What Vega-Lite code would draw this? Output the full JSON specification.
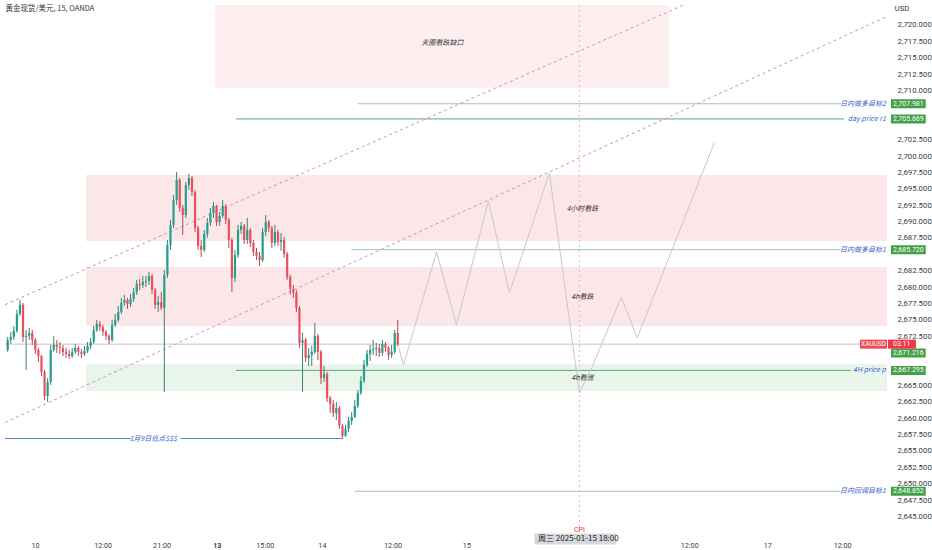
{
"$schema": "https://vega.github.io/schema/vega-lite/v6.json",
"width": 932, "height": 550,
"padding": 0,
"autosize": {"type": "fit", "contains": "padding"},
"background": "white",
"config": {"view": {"stroke": null}, "font": "Noto Sans CJK SC",
 "axis": {"domain": false, "ticks": false, "grid": false, "labelColor": "#3a3a3a", "labelFont": "Roboto", "labelOverlap": false, "labelFlush": false},
 "axisX": {"labelFontSize": 7.2, "labelPadding": 9, "minExtent": 18, "maxExtent": 18},
 "axisY": {"labelFontSize": 7.8, "labelPadding": 10, "minExtent": 44, "maxExtent": 44}},
"datasets": {
"zones": [
{"name":"天图看跌缺口","kind":"gap","t":34.96,"t2":108.94,"p":2710.39,"p2":2723.05},
{"name":"4小时看跌","kind":"bear","t":14.0,"t2":144.4,"p":2687.05,"p2":2697.12},
{"name":"4h看跌","kind":"bear","t":14.0,"t2":144.4,"p":2674.08,"p2":2683.08},
{"name":"4h看涨","kind":"bull","t":14.0,"t2":144.4,"p":2664.16,"p2":2668.28}
],
"levels": [
{"t":0.82,"t2":144.4,"p":2671.3,"kind":"last"},
{"t":58.2,"t2":136.9,"p":2707.981,"kind":"target"},
{"t":38.4,"t2":137.4,"p":2705.669,"kind":"pivot"},
{"t":57.2,"t2":136.9,"p":2685.72,"kind":"target"},
{"t":38.4,"t2":138.5,"p":2667.295,"kind":"pivot"},
{"t":57.7,"t2":136.9,"p":2648.852,"kind":"target"},
{"t":0.82,"t2":21.3,"p":2656.9,"kind":"low"},
{"t":29.4,"t2":55.8,"p":2656.9,"kind":"low"}
],
"channel": [
{"line":"upper","t":0.82,"p":2677.32},{"line":"upper","t":111.27,"p":2723.05},
{"line":"lower","t":0.82,"p":2659.33},{"line":"lower","t":144.4,"p":2721.3}
],
"path": [
{"t":64.75,"p":2671.3},{"t":65.69,"p":2668.13},{"t":71.06,"p":2685.37},{"t":74.31,"p":2674.23},
{"t":79.51,"p":2693.15},{"t":82.93,"p":2679.12},{"t":89.43,"p":2697.42},{"t":94.31,"p":2663.86},
{"t":96.26,"p":2667.52},{"t":101.14,"p":2678.5},{"t":103.74,"p":2672.25},{"t":116.26,"p":2702.0}
],
"cpi": [{"t":94.31,"p":2643.40,"p2":2723.05}],
"candles": [
{"t":1.25,"o":2670.42,"hi":2672.40,"lo":2670.12,"c":2671.95},
{"t":1.75,"o":2671.95,"hi":2673.17,"lo":2671.34,"c":2672.40},
{"t":2.25,"o":2672.40,"hi":2674.08,"lo":2671.95,"c":2673.32},
{"t":2.75,"o":2673.32,"hi":2676.52,"lo":2673.01,"c":2675.91},
{"t":3.25,"o":2675.91,"hi":2678.05,"lo":2675.61,"c":2677.29},
{"t":3.75,"o":2677.29,"hi":2677.59,"lo":2671.64,"c":2672.40},
{"t":4.25,"o":2672.40,"hi":2673.47,"lo":2667.37,"c":2672.56},
{"t":4.75,"o":2672.56,"hi":2673.78,"lo":2671.95,"c":2673.01},
{"t":5.25,"o":2673.01,"hi":2673.47,"lo":2671.18,"c":2671.95},
{"t":5.75,"o":2671.95,"hi":2672.25,"lo":2669.81,"c":2670.42},
{"t":6.25,"o":2670.42,"hi":2670.73,"lo":2668.59,"c":2669.50},
{"t":6.75,"o":2669.50,"hi":2669.66,"lo":2666.45,"c":2667.06},
{"t":7.25,"o":2667.06,"hi":2667.37,"lo":2662.79,"c":2663.40},
{"t":7.75,"o":2663.40,"hi":2666.15,"lo":2662.49,"c":2665.54},
{"t":8.25,"o":2665.54,"hi":2671.18,"lo":2665.08,"c":2670.42},
{"t":8.75,"o":2670.42,"hi":2672.56,"lo":2670.12,"c":2671.18},
{"t":9.25,"o":2671.18,"hi":2671.95,"lo":2669.96,"c":2670.88},
{"t":9.75,"o":2670.88,"hi":2671.64,"lo":2669.81,"c":2670.73},
{"t":10.25,"o":2670.73,"hi":2671.18,"lo":2669.50,"c":2670.12},
{"t":10.75,"o":2670.12,"hi":2670.73,"lo":2669.20,"c":2669.81},
{"t":11.25,"o":2669.81,"hi":2670.42,"lo":2669.05,"c":2669.50},
{"t":11.75,"o":2669.50,"hi":2670.73,"lo":2669.20,"c":2670.12},
{"t":12.25,"o":2670.12,"hi":2671.34,"lo":2669.81,"c":2670.73},
{"t":12.75,"o":2670.73,"hi":2671.03,"lo":2669.50,"c":2670.12},
{"t":13.25,"o":2670.12,"hi":2670.57,"lo":2669.20,"c":2669.81},
{"t":13.75,"o":2669.81,"hi":2671.03,"lo":2669.50,"c":2670.27},
{"t":14.25,"o":2670.27,"hi":2671.64,"lo":2669.96,"c":2671.03},
{"t":14.75,"o":2671.03,"hi":2672.25,"lo":2670.57,"c":2671.64},
{"t":15.25,"o":2671.64,"hi":2674.08,"lo":2671.34,"c":2673.47},
{"t":15.75,"o":2673.47,"hi":2675.00,"lo":2673.17,"c":2674.39},
{"t":16.25,"o":2674.39,"hi":2674.84,"lo":2673.32,"c":2673.93},
{"t":16.75,"o":2673.93,"hi":2674.23,"lo":2672.56,"c":2673.17},
{"t":17.25,"o":2673.17,"hi":2673.47,"lo":2671.95,"c":2672.56},
{"t":17.75,"o":2672.56,"hi":2672.86,"lo":2671.34,"c":2671.95},
{"t":18.25,"o":2671.95,"hi":2675.00,"lo":2671.64,"c":2674.23},
{"t":18.75,"o":2674.23,"hi":2675.91,"lo":2673.93,"c":2675.00},
{"t":19.25,"o":2675.00,"hi":2677.13,"lo":2674.69,"c":2676.22},
{"t":19.75,"o":2676.22,"hi":2678.35,"lo":2675.91,"c":2677.59},
{"t":20.25,"o":2677.59,"hi":2678.81,"lo":2677.13,"c":2678.05},
{"t":20.75,"o":2678.05,"hi":2678.35,"lo":2676.67,"c":2677.44},
{"t":21.25,"o":2677.44,"hi":2678.96,"lo":2676.98,"c":2678.20},
{"t":21.75,"o":2678.20,"hi":2679.88,"lo":2677.74,"c":2679.27},
{"t":22.25,"o":2679.27,"hi":2681.10,"lo":2678.81,"c":2680.49},
{"t":22.75,"o":2680.49,"hi":2681.25,"lo":2679.57,"c":2680.34},
{"t":23.25,"o":2680.34,"hi":2681.71,"lo":2679.88,"c":2680.79},
{"t":23.75,"o":2680.79,"hi":2681.71,"lo":2680.03,"c":2680.95},
{"t":24.25,"o":2680.95,"hi":2682.32,"lo":2680.34,"c":2681.71},
{"t":24.75,"o":2681.71,"hi":2682.01,"lo":2678.96,"c":2679.57},
{"t":25.25,"o":2679.57,"hi":2679.88,"lo":2676.67,"c":2677.29},
{"t":25.75,"o":2677.29,"hi":2678.66,"lo":2676.22,"c":2677.74},
{"t":26.25,"o":2677.74,"hi":2679.27,"lo":2676.52,"c":2676.83},
{"t":26.75,"o":2676.83,"hi":2682.62,"lo":2664.01,"c":2681.86},
{"t":27.25,"o":2681.86,"hi":2687.20,"lo":2681.40,"c":2686.44},
{"t":27.75,"o":2686.44,"hi":2690.25,"lo":2685.68,"c":2689.49},
{"t":28.25,"o":2689.49,"hi":2694.07,"lo":2689.03,"c":2693.30},
{"t":28.75,"o":2693.30,"hi":2697.57,"lo":2692.54,"c":2696.35},
{"t":29.25,"o":2696.35,"hi":2696.66,"lo":2691.47,"c":2692.08},
{"t":29.75,"o":2692.08,"hi":2692.54,"lo":2687.96,"c":2691.01},
{"t":30.25,"o":2691.01,"hi":2696.05,"lo":2690.56,"c":2695.59},
{"t":30.75,"o":2695.59,"hi":2697.27,"lo":2694.83,"c":2696.66},
{"t":31.25,"o":2696.66,"hi":2696.96,"lo":2693.91,"c":2694.52},
{"t":31.75,"o":2694.52,"hi":2694.83,"lo":2688.42,"c":2689.03},
{"t":32.25,"o":2689.03,"hi":2689.34,"lo":2685.68,"c":2686.29},
{"t":32.75,"o":2686.29,"hi":2687.20,"lo":2684.61,"c":2685.68},
{"t":33.25,"o":2685.68,"hi":2688.73,"lo":2685.37,"c":2688.12},
{"t":33.75,"o":2688.12,"hi":2690.56,"lo":2687.51,"c":2689.79},
{"t":34.25,"o":2689.79,"hi":2692.08,"lo":2689.34,"c":2691.32},
{"t":34.75,"o":2691.32,"hi":2693.00,"lo":2690.56,"c":2692.39},
{"t":35.25,"o":2692.39,"hi":2692.54,"lo":2689.34,"c":2689.95},
{"t":35.75,"o":2689.95,"hi":2691.47,"lo":2689.34,"c":2690.86},
{"t":36.25,"o":2690.86,"hi":2693.30,"lo":2690.56,"c":2692.39},
{"t":36.75,"o":2692.39,"hi":2692.69,"lo":2689.64,"c":2690.25},
{"t":37.25,"o":2690.25,"hi":2690.56,"lo":2685.98,"c":2687.20},
{"t":37.75,"o":2687.20,"hi":2687.51,"lo":2679.27,"c":2681.40},
{"t":38.25,"o":2681.40,"hi":2685.68,"lo":2680.79,"c":2684.91},
{"t":38.75,"o":2684.91,"hi":2689.49,"lo":2684.45,"c":2688.73},
{"t":39.25,"o":2688.73,"hi":2689.95,"lo":2688.12,"c":2689.34},
{"t":39.75,"o":2689.34,"hi":2689.64,"lo":2686.59,"c":2687.20},
{"t":40.25,"o":2687.20,"hi":2690.56,"lo":2686.59,"c":2688.73},
{"t":40.75,"o":2688.73,"hi":2689.03,"lo":2686.13,"c":2686.74},
{"t":41.25,"o":2686.74,"hi":2687.20,"lo":2684.76,"c":2685.37},
{"t":41.75,"o":2685.37,"hi":2685.98,"lo":2684.15,"c":2684.76},
{"t":42.25,"o":2684.76,"hi":2685.37,"lo":2683.23,"c":2684.15},
{"t":42.75,"o":2684.15,"hi":2689.03,"lo":2683.84,"c":2688.42},
{"t":43.25,"o":2688.42,"hi":2691.01,"lo":2687.81,"c":2689.95},
{"t":43.75,"o":2689.95,"hi":2690.25,"lo":2688.42,"c":2689.03},
{"t":44.25,"o":2689.03,"hi":2689.34,"lo":2685.98,"c":2686.74},
{"t":44.75,"o":2686.74,"hi":2689.49,"lo":2686.29,"c":2688.42},
{"t":45.25,"o":2688.42,"hi":2688.73,"lo":2686.29,"c":2686.90},
{"t":45.75,"o":2686.90,"hi":2688.27,"lo":2685.52,"c":2687.20},
{"t":46.25,"o":2687.20,"hi":2687.66,"lo":2684.45,"c":2685.07},
{"t":46.75,"o":2685.07,"hi":2685.37,"lo":2681.10,"c":2681.56},
{"t":47.25,"o":2681.56,"hi":2681.86,"lo":2678.81,"c":2679.73},
{"t":47.75,"o":2679.73,"hi":2680.34,"lo":2678.35,"c":2679.12},
{"t":48.25,"o":2679.12,"hi":2679.57,"lo":2676.22,"c":2676.83},
{"t":48.75,"o":2676.83,"hi":2677.13,"lo":2670.73,"c":2671.49},
{"t":49.25,"o":2671.49,"hi":2673.01,"lo":2664.01,"c":2671.95},
{"t":49.75,"o":2671.95,"hi":2672.25,"lo":2668.59,"c":2669.20},
{"t":50.25,"o":2669.20,"hi":2670.73,"lo":2667.98,"c":2669.66},
{"t":50.75,"o":2669.66,"hi":2671.03,"lo":2667.98,"c":2670.12},
{"t":51.25,"o":2670.12,"hi":2674.54,"lo":2669.81,"c":2672.56},
{"t":51.75,"o":2672.56,"hi":2672.86,"lo":2668.89,"c":2670.12},
{"t":52.25,"o":2670.12,"hi":2670.42,"lo":2665.23,"c":2666.15},
{"t":52.75,"o":2666.15,"hi":2667.98,"lo":2665.54,"c":2666.76},
{"t":53.25,"o":2666.76,"hi":2667.06,"lo":2662.49,"c":2663.10},
{"t":53.75,"o":2663.10,"hi":2663.40,"lo":2660.81,"c":2662.18},
{"t":54.25,"o":2662.18,"hi":2662.79,"lo":2660.20,"c":2660.81},
{"t":54.75,"o":2660.81,"hi":2662.49,"lo":2659.74,"c":2661.57},
{"t":55.25,"o":2661.57,"hi":2661.88,"lo":2658.37,"c":2658.83},
{"t":55.75,"o":2658.83,"hi":2659.13,"lo":2656.84,"c":2657.30},
{"t":56.25,"o":2657.30,"hi":2658.98,"lo":2657.15,"c":2658.37},
{"t":56.75,"o":2658.37,"hi":2660.20,"lo":2657.91,"c":2659.59},
{"t":57.25,"o":2659.59,"hi":2660.96,"lo":2658.98,"c":2660.20},
{"t":57.75,"o":2660.20,"hi":2662.79,"lo":2660.05,"c":2661.88},
{"t":58.25,"o":2661.88,"hi":2664.32,"lo":2661.57,"c":2663.86},
{"t":58.75,"o":2663.86,"hi":2666.45,"lo":2663.55,"c":2665.69},
{"t":59.25,"o":2665.69,"hi":2668.89,"lo":2665.39,"c":2668.13},
{"t":59.75,"o":2668.13,"hi":2670.42,"lo":2667.83,"c":2669.81},
{"t":60.25,"o":2669.81,"hi":2671.18,"lo":2668.74,"c":2670.42},
{"t":60.75,"o":2670.42,"hi":2671.95,"lo":2669.66,"c":2670.57},
{"t":61.25,"o":2670.57,"hi":2671.49,"lo":2669.50,"c":2670.73},
{"t":61.75,"o":2670.73,"hi":2671.34,"lo":2669.35,"c":2669.96},
{"t":62.25,"o":2669.96,"hi":2671.95,"lo":2669.50,"c":2671.34},
{"t":62.75,"o":2671.34,"hi":2671.64,"lo":2670.12,"c":2670.73},
{"t":63.25,"o":2670.73,"hi":2671.03,"lo":2668.89,"c":2669.66},
{"t":63.75,"o":2669.66,"hi":2671.18,"lo":2669.20,"c":2670.12},
{"t":64.25,"o":2670.12,"hi":2673.47,"lo":2669.81,"c":2673.01},
{"t":64.75,"o":2673.01,"hi":2675.00,"lo":2671.03,"c":2671.30}
],
"notes": [
{"t":72.03,"p":2717.25,"text":"天图看跌缺口"},
{"t":94.8,"p":2691.95,"text":"4小时看跌"},
{"t":94.8,"p":2678.5,"text":"4h看跌"},
{"t":94.8,"p":2666.15,"text":"4h看涨"}
],
"levelTags": [
{"t":144.2,"p":2707.981,"text":"日内做多目标2"},
{"t":144.2,"p":2705.669,"text":"day price r1"},
{"t":144.2,"p":2685.72,"text":"日内做多目标1"},
{"t":144.2,"p":2667.295,"text":"4H price p"},
{"t":144.2,"p":2648.852,"text":"日内回调目标1"},
{"t":28.8,"p":2656.9,"text":"1月9日低点$$$"}
],
"priceTags": [
{"t":145.04,"t2":150.7,"p":2707.981,"kind":"level"},
{"t":145.04,"t2":150.7,"p":2705.669,"kind":"level"},
{"t":145.04,"t2":150.7,"p":2685.72,"kind":"level"},
{"t":145.04,"t2":150.7,"p":2669.95,"kind":"level"},
{"t":145.04,"t2":150.7,"p":2667.295,"kind":"level"},
{"t":145.04,"t2":150.7,"p":2648.852,"kind":"level"},
{"t":140.0,"t2":144.39,"p":2671.3,"kind":"symbol"},
{"t":144.55,"t2":149.1,"p":2671.3,"kind":"last"}
],
"priceText": [
{"t":147.87,"p":2707.981,"label":"2,707.981","kind":"level"},
{"t":147.87,"p":2705.669,"label":"2,705.669","kind":"level"},
{"t":147.87,"p":2685.72,"label":"2,685.720","kind":"level"},
{"t":147.87,"p":2669.95,"label":"2,671.216","kind":"level"},
{"t":147.87,"p":2667.295,"label":"2,667.295","kind":"level"},
{"t":147.87,"p":2648.852,"label":"2,648.852","kind":"level"},
{"t":142.2,"p":2671.3,"label":"XAUUSD","kind":"symbol"},
{"t":146.8,"p":2671.3,"label":"03:11","kind":"last"}
],
"cursorBox": [{"t":87.0,"t2":100.3,"p":2641.57}],
"cursorText": [{"t":94.15,"p":2641.57,"label":"周三 2025-01-15   18:00"}],
"heads": [{"t":0.9,"p":2722.4,"text":"黄金现货/美元, 15, OANDA"}],
"usd": [{"t":146.83,"p":2722.4,"text":"USD"}],
"cpiTag": [{"t":94.31,"p":2643.0,"text":"CPI"}]
},
"encoding": {
 "x": {"field":"t","type":"quantitative","title":null,"scale":{"domain":[0.813,143.58],"nice":false,"zero":false},
  "axis":{"values":[5.7,16.7,26.3,35.3,43.1,52.4,63.9,75.9,112.2,124.9,137.1],
   "labelExpr":"datum.value < 10 ? '10' : datum.value < 20 ? '12:00' : datum.value < 30 ? '21:00' : datum.value < 40 ? '13' : datum.value < 48 ? '15:00' : datum.value < 58 ? '14' : datum.value < 70 ? '12:00' : datum.value < 80 ? '15' : datum.value < 120 ? '12:00' : datum.value < 130 ? '17' : '12:00'",
   "labelFontWeight":{"condition":{"test":"datum.value > 30 && datum.value < 40","value":"bold"},"value":"normal"}}},
 "y": {"field":"p","type":"quantitative","title":null,"scale":{"domain":[2643.40,2723.05],"nice":false,"zero":false},
  "axis":{"orient":"right","values":[2645,2647.5,2650,2652.5,2655,2657.5,2660,2662.5,2665,2672.5,2675,2677.5,2680,2682.5,2687.5,2690,2692.5,2695,2697.5,2700,2702.5,2710,2712.5,2715,2717.5,2720],
   "format":",.3f"}}
},
"layer": [
{"data":{"name":"zones"},"mark":{"type":"rect"},
 "encoding":{
  "x2":{"field":"t2"},
  "y2":{"field":"p2"},
  "color":{"condition":[{"test":"datum.kind == 'bull'","value":"#e9f5ea"},{"test":"datum.kind == 'gap'","value":"#fdefef"}],"value":"#fce7e8"}
 }},
{"data":{"name":"levels"},"mark":{"type":"rule","strokeWidth":1},
 "encoding":{
  "x2":{"field":"t2"},
  "color":{"condition":[{"test":"datum.kind == 'pivot'","value":"#5ea86b"},{"test":"datum.kind == 'low'","value":"#5b7fd6"},{"test":"datum.kind == 'last'","value":"#c4c4c4"}],"value":"#a6c4bc"}
 }},
{"data":{"name":"channel"},"mark":{"type":"line","strokeWidth":1,"strokeDash":[3,3],"color":"#c993bd"},
 "encoding":{"detail":{"field":"line"}}},
{"data":{"name":"path"},"mark":{"type":"line","strokeWidth":1,"color":"#c8c8c8"},"encoding":{}},
{"data":{"name":"cpi"},"mark":{"type":"rule","strokeWidth":1,"strokeDash":[2,3],"color":"#efb0b8"},
 "encoding":{"y2":{"field":"p2"}}},
{"data":{"name":"candles"},"mark":{"type":"rule","strokeWidth":1},
 "encoding":{
  "y":{"field":"lo","type":"quantitative","title":null,"scale":{"domain":[2643.40,2723.05],"nice":false,"zero":false},
   "axis":{"orient":"right","values":[2645,2647.5,2650,2652.5,2655,2657.5,2660,2662.5,2665,2672.5,2675,2677.5,2680,2682.5,2687.5,2690,2692.5,2695,2697.5,2700,2702.5,2710,2712.5,2715,2717.5,2720],
    "format":",.3f"}},
  "y2":{"field":"hi"},
  "color":{"condition":{"test":"datum.c >= datum.o","value":"#3f7f73"},"value":"#b8474f"}
 }},
{"data":{"name":"candles"},"mark":{"type":"bar","size":2.2},
 "encoding":{
  "y":{"field":"o","type":"quantitative","title":null,"scale":{"domain":[2643.40,2723.05],"nice":false,"zero":false},
   "axis":{"orient":"right","values":[2645,2647.5,2650,2652.5,2655,2657.5,2660,2662.5,2665,2672.5,2675,2677.5,2680,2682.5,2687.5,2690,2692.5,2695,2697.5,2700,2702.5,2710,2712.5,2715,2717.5,2720],
    "format":",.3f"}},
  "y2":{"field":"c"},
  "color":{"condition":{"test":"datum.c >= datum.o","value":"#22a08f"},"value":"#ec4f5c"}
 }},
{"data":{"name":"notes"},"mark":{"type":"text","fontSize":7,"fontStyle":"italic","color":"#333333","align":"center","baseline":"middle"},
 "encoding":{"text":{"field":"text"}}},
{"data":{"name":"levelTags"},"mark":{"type":"text","fontSize":7,"fontStyle":"italic","color":"#3f63cc","align":"right","baseline":"middle"},
 "encoding":{"text":{"field":"text"}}},
{"data":{"name":"priceTags"},"mark":{"type":"bar","orient":"horizontal","size":9},
 "encoding":{
  "x2":{"field":"t2"},
  "color":{"condition":[{"test":"datum.kind == 'symbol'","value":"#f04a57"},{"test":"datum.kind == 'last'","value":"#f23645"}],"value":"#43a047"}
 }},
{"data":{"name":"priceText"},"mark":{"type":"text","color":"white","align":"center","baseline":"middle","font":"Roboto"},
 "encoding":{
  "text":{"field":"label"},
  "size":{"condition":{"test":"datum.kind == 'symbol'","value":6.5},"value":7}
 }},
{"data":{"name":"cursorBox"},"mark":{"type":"bar","orient":"horizontal","size":11,"color":"#d6d8dd"},
 "encoding":{"x2":{"field":"t2"}}},
{"data":{"name":"cursorText"},"mark":{"type":"text","fontSize":8,"color":"#222222","align":"center","baseline":"middle"},
 "encoding":{"text":{"field":"label"}}},
{"data":{"name":"heads"},"mark":{"type":"text","fontSize":7.5,"color":"#333333","align":"left","baseline":"middle"},
 "encoding":{"text":{"field":"text"}}},
{"data":{"name":"usd"},"mark":{"type":"text","fontSize":7.5,"color":"#333333","align":"center","baseline":"middle","font":"Roboto"},
 "encoding":{"text":{"field":"text"}}},
{"data":{"name":"cpiTag"},"mark":{"type":"text","fontSize":7,"color":"#e53945","align":"center","baseline":"middle","font":"Roboto"},
 "encoding":{"text":{"field":"text"}}}
]
}
